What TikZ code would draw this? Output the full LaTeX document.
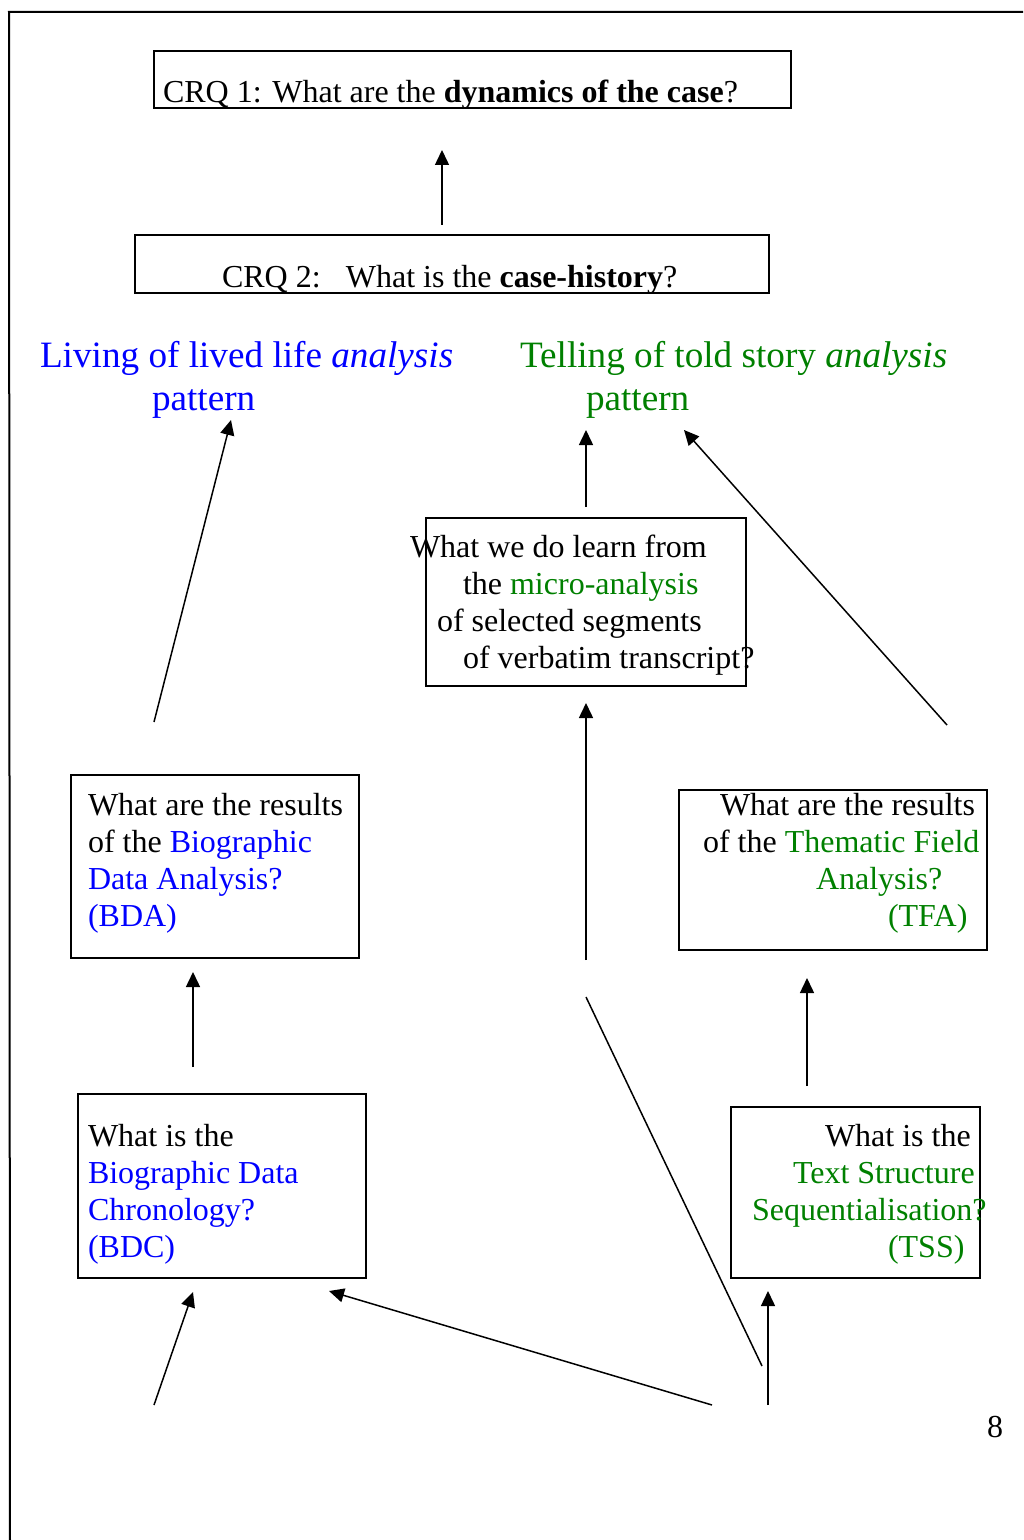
\documentclass[tikz,border=0pt]{standalone}
\usepackage{fontspec}
\setmainfont{Liberation Serif}
\usetikzlibrary{arrows.meta}
\definecolor{myblue}{RGB}{0,0,255}
\definecolor{mygreen}{RGB}{0,128,0}
\begin{document}
\begin{tikzpicture}[x=0.5pt,y=-0.5pt,
  box/.style={draw, line width=0.8pt, rectangle, inner sep=0pt, outer sep=0pt},
  txt/.style={inner sep=0pt, outer sep=0pt, anchor=base west, font=\fontsize{16}{18.5}\selectfont},
  head/.style={inner sep=0pt, outer sep=0pt, anchor=base west, font=\fontsize{18.6}{21.5}\selectfont},
  arr/.style={line width=0.75pt, -{Triangle[length=7.5pt,width=7pt]}},
  ln/.style={line width=0.75pt}]
\useasboundingbox (0,0) rectangle (1023,1540);
% page frame
\coordinate (fa) at (9,12);
\coordinate (fb) at (1023,12);
\coordinate (fc) at (10,1540);
\draw[line width=1pt] (fb) -- (fa) -- (fc);

% boxes
\node[box, minimum width=318.5pt, minimum height=28.5pt] (crq1) at (472.5,79.5) {};
\node[box, minimum width=317pt, minimum height=29pt] (crq2) at (452,264) {};
\node[box, minimum width=160pt, minimum height=84pt] (micro) at (586,602) {};
\node[box, minimum width=144pt, minimum height=91.5pt] (bda) at (215,866.5) {};
\node[box, minimum width=154pt, minimum height=80pt] (tfa) at (833,870) {};
\node[box, minimum width=144pt, minimum height=92pt] (bdc) at (222,1186) {};
\node[box, minimum width=124.5pt, minimum height=85.5pt] (tss) at (855.5,1192.5) {};

% texts
\node[txt] (t1) at (163,103) {CRQ 1: What are the \textbf{dynamics of the case}?};
\node[txt] (t2) at (222,288) {CRQ 2:\hspace{12.6pt}What is the \textbf{case-history}?};

\node[head, text=myblue] (hl1) at (40,367) {Living of lived life \textit{analysis}};
\node[head, text=myblue] (hl2) at (152,410) {pattern};
\node[head, text=mygreen] (hr1) at (520,367) {Telling of told story \textit{analysis}};
\node[head, text=mygreen] (hr2) at (586,410) {pattern};

\node[txt] (m1) at (410,557) {What we do learn from};
\node[txt] (m2) at (463,594) {the \textcolor{mygreen}{micro-analysis}};
\node[txt] (m3) at (437,631) {of selected segments};
\node[txt] (m4) at (463,668) {of verbatim transcript?};

\node[txt] (a1) at (88,815) {What are the results};
\node[txt] (a2) at (88,852) {of the \textcolor{myblue}{Biographic}};
\node[txt, text=myblue] (a3) at (88,889) {Data Analysis?};
\node[txt, text=myblue] (a4) at (88,926) {(BDA)};

\node[txt] (f1) at (720,815) {What are the results};
\node[txt] (f2) at (703,852) {of the \textcolor{mygreen}{Thematic Field}};
\node[txt, text=mygreen] (f3) at (816,889) {Analysis?};
\node[txt, text=mygreen] (f4) at (888,926) {(TFA)};

\node[txt] (c1) at (88,1146) {What is the};
\node[txt, text=myblue] (c2) at (88,1183) {Biographic Data};
\node[txt, text=myblue] (c3) at (88,1220) {Chronology?};
\node[txt, text=myblue] (c4) at (88,1257) {(BDC)};

\node[txt] (s1) at (825,1146) {What is the};
\node[txt, text=mygreen] (s2) at (793,1183) {Text Structure};
\node[txt, text=mygreen] (s3) at (752,1220) {Sequentialisation?};
\node[txt, text=mygreen] (s4) at (888,1257) {(TSS)};

\node[txt] (pg) at (987,1437) {8};

% connector end points
\coordinate (p1s) at (442,225);  \coordinate (p1e) at (442,150);
\coordinate (p2s) at (154,722);  \coordinate (p2e) at (231,420);
\coordinate (p3s) at (586,507);  \coordinate (p3e) at (586,430);
\coordinate (p4s) at (947,725);  \coordinate (p4e) at (684,430);
\coordinate (p5s) at (586,960);  \coordinate (p5e) at (586,703);
\coordinate (p6s) at (193,1067); \coordinate (p6e) at (193,972);
\coordinate (p7s) at (807,1086); \coordinate (p7e) at (807,978);
\coordinate (p8s) at (586,997);  \coordinate (p8e) at (762,1366);
\coordinate (p9s) at (712,1405); \coordinate (p9e) at (329,1291);
\coordinate (p10s) at (154,1405); \coordinate (p10e) at (193,1292);
\coordinate (p11s) at (768,1405); \coordinate (p11e) at (768,1291);

\draw[arr] (p1s) -- (p1e);
\draw[arr] (p2s) -- (p2e);
\draw[arr] (p3s) -- (p3e);
\draw[arr] (p4s) -- (p4e);
\draw[arr] (p5s) -- (p5e);
\draw[arr] (p6s) -- (p6e);
\draw[arr] (p7s) -- (p7e);
\draw[ln] (p8s) -- (p8e);
\draw[arr] (p9s) -- (p9e);
\draw[arr] (p10s) -- (p10e);
\draw[arr] (p11s) -- (p11e);
\end{tikzpicture}
\end{document}
